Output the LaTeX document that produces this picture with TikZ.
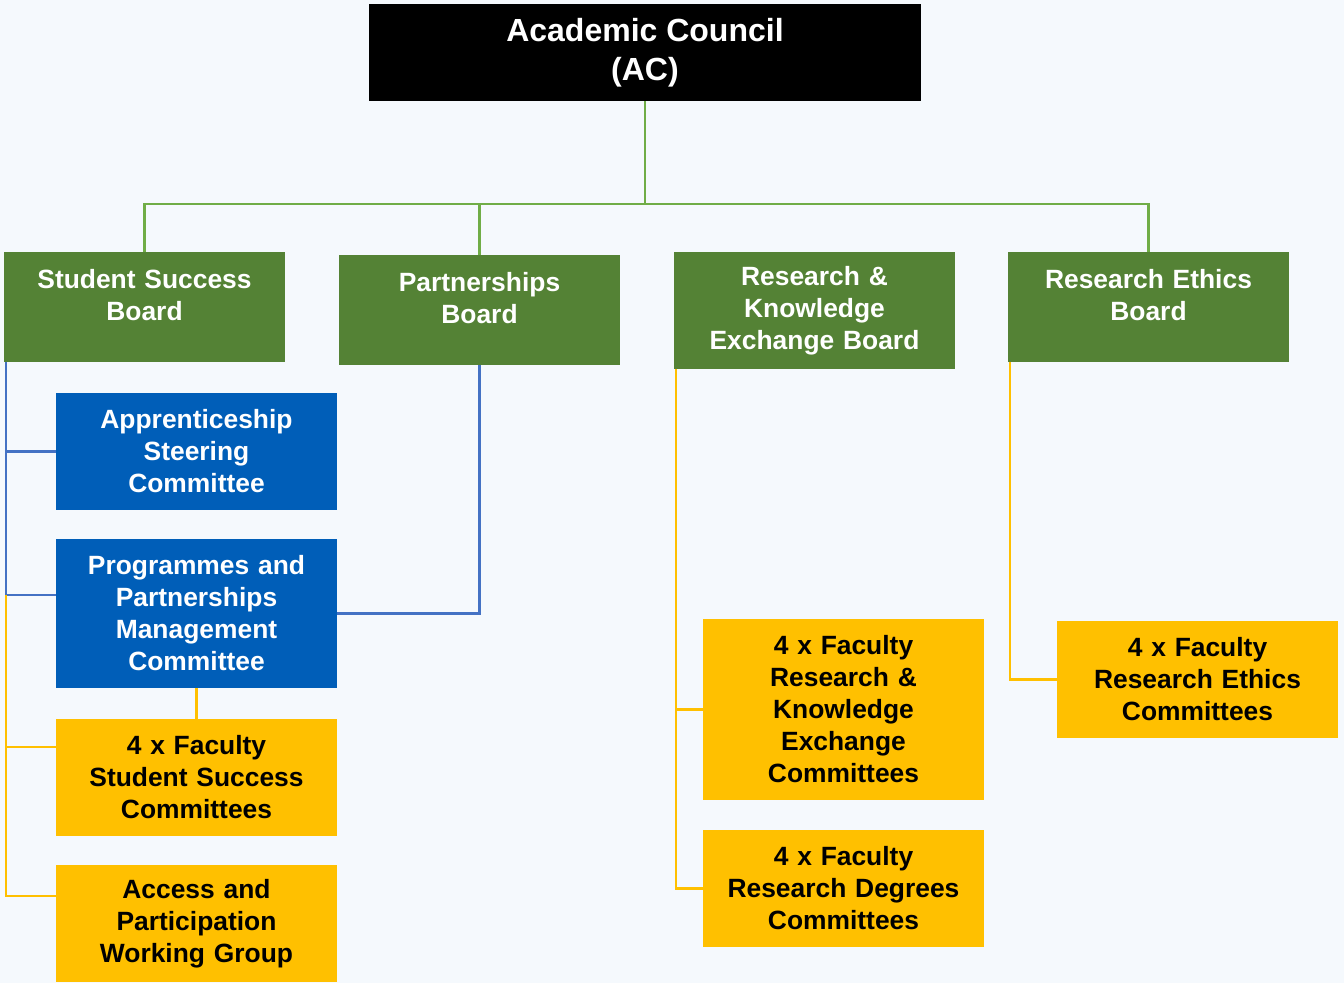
\documentclass[tikz,border=0pt]{standalone}
\usepackage{fontspec}
\setmainfont{Liberation Sans}
\usetikzlibrary{calc}
\usepackage{xcolor}
\definecolor{bgblue}{HTML}{F5F9FD}
\definecolor{boardgreen}{HTML}{548235}
\definecolor{linegreen}{HTML}{70AD47}
\definecolor{cteblue}{HTML}{005EB8}
\definecolor{lineblue}{HTML}{4472C4}
\definecolor{ctegold}{HTML}{FFC000}

\begin{document}
\begin{tikzpicture}[x=1pt,y=-1pt,
 box/.style={rectangle, inner sep=0, minimum width=281pt, text width=265pt, align=center, font=\fontsize{26.4}{32}\selectfont\bfseries},
 board/.style={box, fill=boardgreen, text=white, minimum height=110pt},
 bluebox/.style={box, fill=cteblue, text=white, minimum height=117pt},
 goldbox/.style={box, fill=ctegold, text=black, minimum height=117pt},
 greenline/.style={linegreen, line width=2.5pt},
 blueline/.style={lineblue, line width=2.5pt},
 goldline/.style={ctegold, line width=2.5pt}]
\fill[bgblue] (0,0) rectangle (1344,983);
\node[rectangle, fill=black, text=white, minimum width=552pt, minimum height=97pt, align=center, font=\fontsize{32}{39}\selectfont\bfseries] (ac) at (645,52.5) {Academic Council\\(AC)};
% boards
\node[board] (ssb) at (144.5,307) {Student Success\\Board\\[-18pt]\strut};
\node[board] (pb) at (479.5,310) {Partnerships\\Board\\[-18pt]\strut};
\node[board, minimum height=117pt] (rkeb) at (814.5,310.5) {Research \&\\Knowledge\\Exchange Board};
\node[board] (reb) at (1148.5,307) {Research Ethics\\Board\\[-18pt]\strut};
% committees
\node[bluebox] (asc) at (196.5,451.5) {Apprenticeship\\Steering\\Committee};
\node[bluebox, minimum height=149pt] (ppmc) at (196.5,613.5) {Programmes and\\Partnerships\\Management\\Committee};
\node[goldbox] (fssc) at (196.5,777.5) {4 x Faculty\\Student Success\\Committees};
\node[goldbox] (apwg) at (196.5,923.5) {Access and\\Participation\\Working Group};
\node[goldbox, minimum height=181pt] (frkec) at (843.5,709.5) {4 x Faculty\\Research \&\\Knowledge\\Exchange\\Committees};
\node[goldbox] (frdc) at (843.5,888.5) {4 x Faculty\\Research Degrees\\Committees};
\node[goldbox] (frec) at (1197.5,679.5) {4 x Faculty\\Research Ethics\\Committees};
% connectors
\draw[greenline] (ac.south) --++(0,103) coordinate (acbus);
\foreach \b in {ssb,pb,reb} {
 \draw[greenline] (acbus) -| (\b.north);
}
\coordinate (ssbus) at ($(ssb.south west)+(2,0)$);
\coordinate (sgbus) at (6,595);
\draw[blueline] (ssbus) |- (asc.west);
\draw[blueline] (ssbus) |- (sgbus) -- (sgbus -| ppmc.west);
\draw[blueline] (pb.south) |- (ppmc.east);
\draw[goldline] (sgbus) |- ([yshift=30.5pt]fssc.west);
\draw[goldline] (sgbus) |- ([yshift=27.5pt]apwg.west);
\draw[goldline] (ppmc.south) -- (fssc.north);
\foreach \c in {frkec,frdc} {
 \draw[goldline] ($(rkeb.south west)+(2,0)$) |- (\c.west);
}
\draw[goldline] ($(reb.south west)+(2,0)$) |- (frec.west);
\end{tikzpicture}
\end{document}
